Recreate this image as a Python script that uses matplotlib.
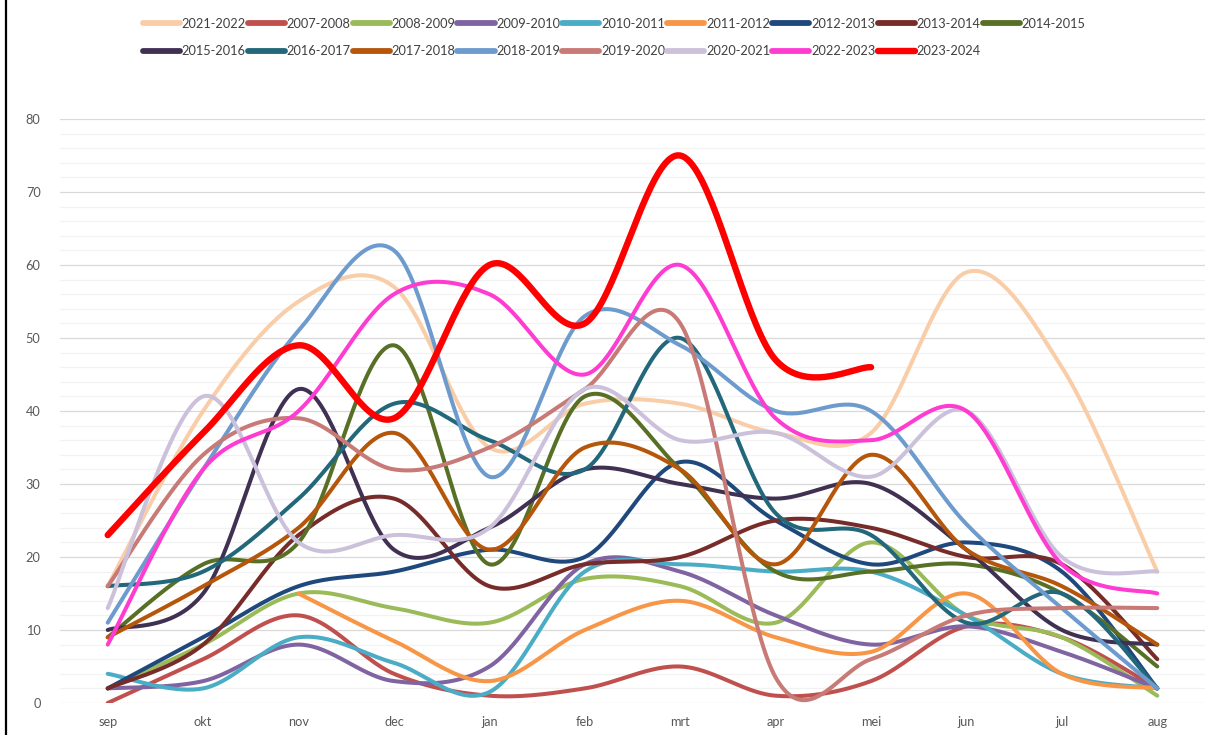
import numpy as np
import matplotlib
matplotlib.use("Agg")
import matplotlib.pyplot as plt
from matplotlib.lines import Line2D

nan = np.nan

months = ["sep", "okt", "nov", "dec", "jan", "feb", "mrt", "apr", "mei", "jun", "jul", "aug"]

s2021_2022 = [16, 40, 55, 57, 35, 41, 41, 37, 37, 59, 46, 18]
s2007_2008 = [0, 6, 12, 4, 1, 2, 5, 1, 3, 10.5, 9, 2]
s2008_2009 = [2, 8, 15, 13, 11, 17, 16, 11, 22, 12, 9, 1]
s2009_2010 = [2, 3, 8, 3, 5, 19, 18, 12, 8, 10.5, 7, 2]
s2010_2011 = [4, 2, 9, 5.5, 1.5, 18, 19, 18, 18, 12, 4, 2]
s2011_2012 = [nan, nan, 15, 8.5, 3, 10, 14, 9, 7, 15, 4, 2]
s2012_2013 = [2, 9, 16, 18, 21, 20, 33, 25, 19, 22, 18, 2]
s2013_2014 = [2, 8, 23, 28, 16, 19, 20, 25, 24, 20, 19, 6]
s2014_2015 = [9, 19, 22, 49, 19, 42, 32, 18, 18, 19, 15, 5]
s2015_2016 = [10, 15, 43, 21, 24, 32, 30, 28, 30, 21, 10, 8]
s2016_2017 = [16, 18, 28, 41, 36, 32, 50, 26, 23, 11, 15, 2]
s2017_2018 = [9, 16, 24, 37, 21, 35, 32, 19, 34, 21, 16, 8]
s2018_2019 = [11, 32, 51, 62, 31, 53, 49, 40, 40, 24.5, 13, 2]
s2019_2020 = [16, 34, 39, 32, 35, 43, 52, 3.5, 6, 12, 13, 13]
s2020_2021 = [13, 42, 22, 23, 24, 43, 36, 37, 31, 40, 20, 18]
s2022_2023 = [8, 32, 40, 56, 56, 45, 60, 39, 36, 40, 19, 15]
s2023_2024 = [23, 37, 49, 39, 60, 52, 75, 47, 46, nan, nan, nan]

labels = ["2021-2022", "2007-2008", "2008-2009", "2009-2010", "2010-2011", "2011-2012",
          "2012-2013", "2013-2014", "2014-2015", "2015-2016", "2016-2017", "2017-2018",
          "2018-2019", "2019-2020", "2020-2021", "2022-2023", "2023-2024"]
data = [s2021_2022, s2007_2008, s2008_2009, s2009_2010, s2010_2011, s2011_2012,
        s2012_2013, s2013_2014, s2014_2015, s2015_2016, s2016_2017, s2017_2018,
        s2018_2019, s2019_2020, s2020_2021, s2022_2023, s2023_2024]
colors = ["#F9CDA8", "#C0504D", "#9BBB59", "#8064A2", "#4BACC6", "#F79646",
          "#1F497D", "#772C2A", "#587026", "#403152", "#22677A", "#B5560A",
          "#6E9BCD", "#C77A76", "#CCC1DA", "#FF3CD2", "#FF0000"]
widths = [2.9] * 16 + [4.6]


def smooth(xs, ys, n=40):
    """Excel-like smoothed line: Catmull-Rom cubic Bezier through the points."""
    pts = np.column_stack([xs, ys]).astype(float)
    out = [pts[0]]
    m = len(pts)
    for i in range(m - 1):
        p0 = pts[i - 1] if i > 0 else pts[i]
        p1 = pts[i]
        p2 = pts[i + 1]
        p3 = pts[i + 2] if i + 2 < m else pts[i + 1]
        c1 = p1 + (p2 - p0) / 6.0
        c2 = p2 - (p3 - p1) / 6.0
        t = np.linspace(0, 1, n)[1:, None]
        seg = ((1 - t) ** 3) * p1 + 3 * ((1 - t) ** 2) * t * c1 + 3 * (1 - t) * t ** 2 * c2 + t ** 3 * p2
        out.extend(seg)
    out = np.array(out)
    return out[:, 0], out[:, 1]


plt.rcParams["font.family"] = ["Lato", "DejaVu Sans"]

fig = plt.figure(figsize=(12.06, 7.35), dpi=100)
ax = fig.add_axes([60 / 1206, 32 / 735, 1145 / 1206, 584 / 735])

x_idx = np.arange(len(months))
handles = []
for lab, vals, col, lw in zip(labels, data, colors, widths):
    v = np.array(vals, dtype=float)
    ok = ~np.isnan(v)
    runs = []
    cur = []
    for i in range(len(v)):
        if ok[i]:
            cur.append(i)
        elif cur:
            runs.append(cur)
            cur = []
    if cur:
        runs.append(cur)
    for r in runs:
        sx, sy = smooth(x_idx[r], v[r])
        ax.plot(sx, sy, color=col, lw=lw, solid_capstyle="round", solid_joinstyle="round", zorder=3)
    handles.append(Line2D([], [], color=col, lw=4.6 if lw > 4 else 4.2, solid_capstyle="round"))

ax.set_xlim(-0.5, len(months) - 0.5)
ax.set_ylim(0, 80)
ax.set_xticks(x_idx)
ax.set_xticklabels(months)
ax.set_yticks(np.arange(0, 81, 10))
ax.set_yticks(np.arange(0, 81, 2), minor=True)
ax.grid(True, axis="y", which="major", color="#D9D9D9", lw=0.9, zorder=0)
ax.grid(True, axis="y", which="minor", color="#F2F2F2", lw=0.9, zorder=0)
ax.tick_params(axis="both", which="both", length=0, colors="#595959", labelsize=9.2)
ax.tick_params(axis="y", pad=14)
ax.tick_params(axis="x", pad=9)
for s in ax.spines.values():
    s.set_visible(False)

# legend: 9 entries in the first row, 8 in the second (row-major order)
ncol = 9
order = []
for k in range(8):
    order.append(k)
    order.append(k + 9)
order.append(8)
leg = fig.legend([handles[i] for i in order], [labels[i] for i in order],
                 ncol=ncol, loc="center", bbox_to_anchor=(614 / 1206, 1 - 37.5 / 735),
                 frameon=False, fontsize=9.2, handlelength=2.9, handletextpad=0.15,
                 columnspacing=0.15, labelspacing=1.25, borderpad=0)
for t in leg.get_texts():
    t.set_color("#404040")

# left border of the original chart frame
fig.add_artist(Line2D([6 / 1206, 6 / 1206], [0, 1], color="black", lw=1.6, transform=fig.transFigure))

fig.savefig("out.png", dpi=100, facecolor="white")
